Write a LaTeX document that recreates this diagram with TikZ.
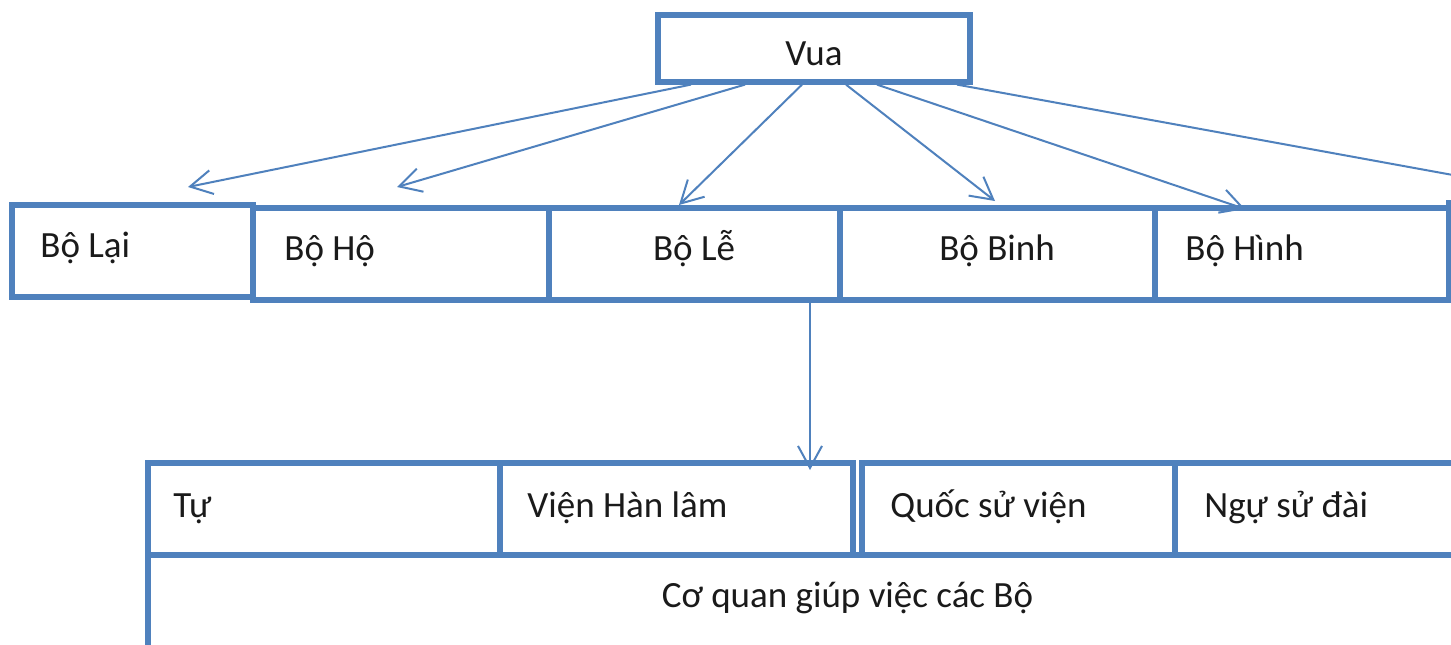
\documentclass[tikz,border=0pt]{standalone}
\usepackage{fontspec}
\setmainfont{Carlito}
\usetikzlibrary{arrows.meta}
\definecolor{bblue}{RGB}{79,129,189}
\definecolor{ink}{RGB}{26,26,26}
\begin{document}
\begin{tikzpicture}[x=0.5pt,y=-0.5pt,
  box/.style={draw=bblue, line width=2.6pt, rectangle, inner sep=0pt, minimum height=46pt},
  txt/.style={text=ink, font=\fontsize{18.5pt}{22pt}\selectfont, inner sep=0pt},
  arr/.style={draw=bblue, line width=1pt, -{Straight Barb[length=11pt,width=12pt]}}]
\useasboundingbox (0,0) rectangle (1451,644);
\clip (0,0) rectangle (1451,644);
\fill[white] (0,0) rectangle (1451,644);

% top
\node[box, minimum width=156pt, minimum height=33.5pt] (Vua) at (814,48.5) {};
\node[txt, anchor=base] (tVua) at (814,65) {Vua};

% ministries
\node[box, minimum width=120.5pt] (Lai) at (132.5,251) {};
\node[box, minimum width=148pt] (Ho) at (401,254) {};
\node[box, minimum width=145.5pt] (Le) at (694.5,254) {};
\node[box, minimum width=157.5pt] (Binh) at (997.5,254) {};
\node[box, minimum width=147pt] (Hinh) at (1302,254) {};
\node[box, minimum width=83.5pt, minimum height=47pt] (Cong) at (1532.5,250) {};

\node[txt, anchor=base west] (tLai) at (40,257) {Bộ Lại};
\node[txt, anchor=base west] (tHo) at (284,260) {Bộ Hộ};
\node[txt, anchor=base] (tLe) at (694,260) {Bộ Lễ};
\node[txt, anchor=base] (tBinh) at (997,260) {Bộ Binh};
\node[txt, anchor=base west] (tHinh) at (1185,260) {Bộ Hình};

% arrows from Vua
\coordinate (s1) at (691,82); \coordinate (e1) at (188,187);
\coordinate (s2) at (745,82); \coordinate (e2) at (397,187);
\coordinate (s3) at (802,82); \coordinate (e3) at (679,205);
\coordinate (s4) at (846,82); \coordinate (e4) at (995,201);
\coordinate (s5) at (877,82); \coordinate (e5) at (1245,209);
\coordinate (s6) at (957,82); \coordinate (e6) at (1590,200);
\draw[arr] (Vua.south -| s1) -- (e1);
\draw[arr] (Vua.south -| s2) -- (e2);
\draw[arr] (Vua.south -| s3) -- (e3);
\draw[arr] (Vua.south -| s4) -- (e4);
\draw[arr] (Vua.south -| s5) -- (e5);
\draw[arr] (Vua.south -| s6) -- (e6);

% lower block
\node[box, minimum width=699.5pt, minimum height=72.5pt] (Coquan) at (847.5,627.5) {};
\node[box, minimum width=176pt] (Tu) at (324,509) {};
\node[box, minimum width=176.5pt] (Vien) at (676.5,509) {};
\node[box, minimum width=156.5pt] (Quoc) at (1018.5,509) {};
\node[box, minimum width=186pt] (Ngu) at (1361,509) {};

\node[txt, anchor=base west] (tTu) at (173,517) {Tự};
\node[txt, anchor=base west] (tVien) at (527,517) {Viện Hàn lâm};
\node[txt, anchor=base west] (tQuoc) at (890,517) {Quốc sử viện};
\node[txt, anchor=base west] (tNgu) at (1204,517) {Ngự sử đài};
\node[txt, anchor=base] (tCoquan) at (847.5,607) {Cơ quan giúp việc các Bộ};

% arrow from Bo Le
\coordinate (e7) at (810,470);
\draw[arr] (Le.south -| e7) -- (e7);
\end{tikzpicture}
\end{document}
